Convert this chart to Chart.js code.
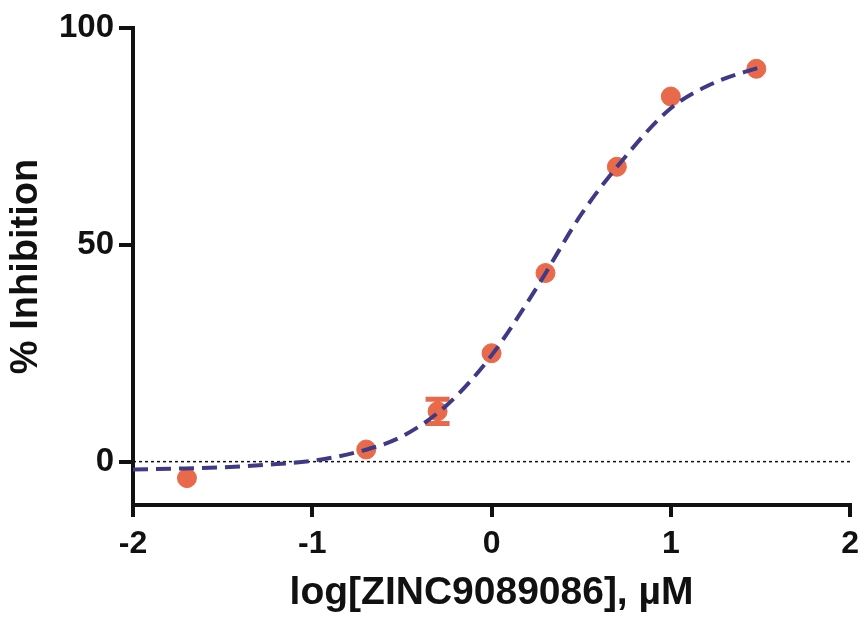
<!DOCTYPE html>
<html>
<head>
<meta charset="utf-8">
<script src="https://cdn.jsdelivr.net/npm/chart.js@4"></script>
<style>
  html, body { margin: 0; padding: 0; background: #fff; }
  #wrap { width: 867px; height: 619px; }
</style>
</head>
<body>
<div id="wrap"><canvas id="chart" width="867" height="619"></canvas></div>
<script>
// measured points: log concentration vs % inhibition
const pointX = [-1.699, -0.699, -0.301, 0, 0.301, 0.699, 1, 1.477];
const pointY = [-3.8, 2.8, 11.6, 25, 43.5, 68, 84.2, 90.6];
const pointErr = [0, 0, 2.8, 0, 0, 0, 0, 0];

// fitted curve
const curveX = [-2, -1.75, -1.5, -1.25, -1, -0.75, -0.5, -0.25, 0, 0.25, 0.5, 0.75, 1, 1.25, 1.5];
const curveY = [-1.8, -1.6, -1.3, -0.7, 0.2, 2.2, 5.8, 13, 24.5, 40, 57, 70.5, 81.5, 87.5, 91];

const xTicks = [-2, -1, 0, 1, 2];
const yTicks = [0, 50, 100];
const baseline = [0, 0];

const ink = '#111';
const dotColor = '#E9694B';
const curveColor = '#3E3A86';
const font = "'Liberation Sans', Arial, sans-serif";

// error bars go behind the curve
const errorBars = {
    id: 'errorBars',
    beforeDatasetsDraw(chart) {
        const ctx = chart.ctx;
        const xs = chart.scales.x, ys = chart.scales.y;
        ctx.save();
        ctx.strokeStyle = dotColor;
        ctx.lineWidth = 5;
        pointX.forEach((x, i) => {
            if (!pointErr[i]) return;
            const px = xs.getPixelForValue(x);
            const top = ys.getPixelForValue(pointY[i] + pointErr[i]);
            const bot = ys.getPixelForValue(pointY[i] - pointErr[i]);
            ctx.beginPath();
            ctx.moveTo(px, top); ctx.lineTo(px, bot);
            ctx.moveTo(px - 12, top); ctx.lineTo(px + 12, top);
            ctx.moveTo(px - 12, bot); ctx.lineTo(px + 12, bot);
            ctx.stroke();
        });
        ctx.restore();
    }
};

new Chart(document.getElementById('chart'), {
    type: 'scatter',
    data: {
        datasets: [{
            label: 'baseline',
            data: [{x: -2, y: baseline[0]}, {x: 2, y: baseline[1]}],
            showLine: true,
            borderColor: ink,
            borderWidth: 1.5,
            borderDash: [3, 3],
            pointRadius: 0,
            order: 3
        }, {
            label: 'data',
            data: pointX.map((x, i) => ({x, y: pointY[i]})),
            backgroundColor: dotColor,
            borderColor: dotColor,
            pointRadius: 9.5,
            order: 2
        }, {
            label: 'fit',
            data: curveX.map((x, i) => ({x, y: curveY[i]})),
            showLine: true,
            borderColor: curveColor,
            borderWidth: 4,
            borderDash: [15, 8],
            cubicInterpolationMode: 'monotone',
            pointRadius: 0,
            order: 1
        }]
    },
    options: {
        responsive: false,
        animation: false,
        layout: { padding: { top: 28, right: 15, left: 0, bottom: 0 } },
        plugins: { legend: { display: false }, tooltip: { enabled: false } },
        scales: {
            x: {
                type: 'linear',
                min: -2, max: 2,
                afterBuildTicks: s => { s.ticks = xTicks.map(v => ({value: v})); },
                afterFit: s => { s.height = 114; },
                border: { display: true, color: ink, width: 4 },
                grid: { drawOnChartArea: false, drawTicks: true, tickLength: 12, color: ink, lineWidth: 4 },
                ticks: { color: ink, padding: 8, font: { family: font, size: 32, weight: 'bold' } },
                title: {
                    display: true,
                    text: 'log[ZINC9089086], µM',
                    color: ink,
                    padding: { top: 0, bottom: 2 },
                    font: { family: font, size: 39, weight: 'bold' }
                }
            },
            y: {
                min: -10, max: 100,
                afterBuildTicks: s => { s.ticks = yTicks.map(v => ({value: v})); },
                afterFit: s => { s.width = 133; },
                border: { display: true, color: ink, width: 4 },
                grid: { drawOnChartArea: false, drawTicks: true, tickLength: 14, color: ink, lineWidth: 4 },
                ticks: { color: ink, padding: 5, font: { family: font, size: 33, weight: 'bold' } },
                title: {
                    display: true,
                    text: '% Inhibition',
                    color: ink,
                    padding: { top: 4, bottom: 0 },
                    font: { family: font, size: 38, weight: 'bold' }
                }
            }
        }
    },
    plugins: [errorBars]
});
</script>
</body>
</html>
